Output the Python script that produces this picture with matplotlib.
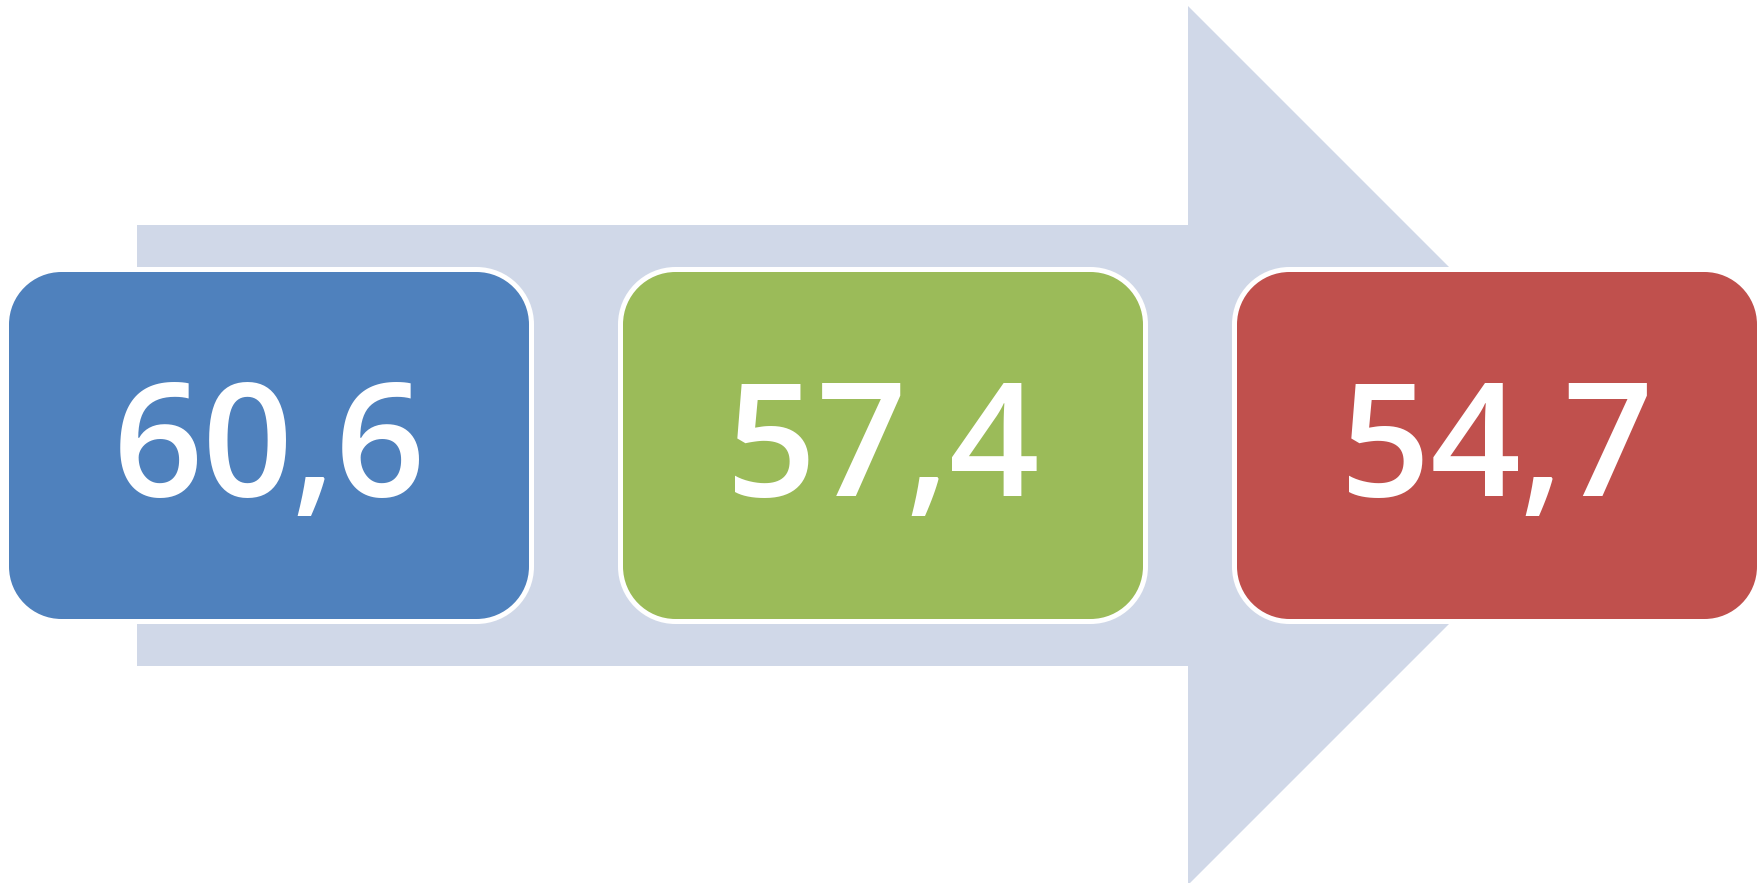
import matplotlib.pyplot as plt
from matplotlib.patches import PathPatch, Polygon
from matplotlib.path import Path

# valores mostrados en las cajas
values = [60.6, 57.4, 54.7]
box_colors = ["#4F81BD", "#9BBB59", "#C0504D"]
arrow_color = "#D0D8E8"

# layout en pixeles (figura 1765x883 a 100 dpi)
W, H = 1765, 883
BOX_LEFT = 6.5
BOX_STEP = 614
BOX_W = 525
BOX_TOP = 269.5
BOX_H = 352
RADIUS = 55


def rounded_rect(x0, y0, w, h, r):
    """Rectangulo con esquinas de arco circular (bezier cubica)."""
    k = 0.5523 * r
    x1, y1 = x0 + w, y0 + h
    verts = [
        (x0 + r, y0),
        (x1 - r, y0),
        (x1 - r + k, y0), (x1, y0 + r - k), (x1, y0 + r),
        (x1, y1 - r),
        (x1, y1 - r + k), (x1 - r + k, y1), (x1 - r, y1),
        (x0 + r, y1),
        (x0 + r - k, y1), (x0, y1 - r + k), (x0, y1 - r),
        (x0, y0 + r),
        (x0, y0 + r - k), (x0 + r - k, y0), (x0 + r, y0),
        (x0 + r, y0),
    ]
    codes = [Path.MOVETO, Path.LINETO]
    codes += [Path.CURVE4] * 3 + [Path.LINETO]
    codes += [Path.CURVE4] * 3 + [Path.LINETO]
    codes += [Path.CURVE4] * 3 + [Path.LINETO]
    codes += [Path.CURVE4] * 3 + [Path.CLOSEPOLY]
    return Path(verts, codes)


fig = plt.figure(figsize=(W / 100, H / 100), dpi=100)
ax = fig.add_axes([0, 0, 1, 1])
ax.set_xlim(0, W)
ax.set_ylim(H, 0)
ax.axis("off")

# ----------------------------------------
# Flecha de fondo
# ----------------------------------------
shaft_left, shaft_top, shaft_bottom = 137, 225, 666
head_x, head_top, head_bottom = 1188, 6, 885
tip_x = head_x + (head_bottom - head_top) / 2
mid_y = (head_top + head_bottom) / 2
arrow = Polygon(
    [
        (shaft_left, shaft_top),
        (head_x, shaft_top),
        (head_x, head_top),
        (tip_x, mid_y),
        (head_x, head_bottom),
        (head_x, shaft_bottom),
        (shaft_left, shaft_bottom),
    ],
    closed=True,
    facecolor=arrow_color,
    edgecolor="none",
    zorder=1,
)
ax.add_patch(arrow)

# ----------------------------------------
# Cajas con valores
# ----------------------------------------
for i, (value, color) in enumerate(zip(values, box_colors)):
    x0 = BOX_LEFT + i * BOX_STEP
    box = PathPatch(
        rounded_rect(x0, BOX_TOP, BOX_W, BOX_H, RADIUS),
        facecolor=color,
        edgecolor="white",
        linewidth=3.6,
        zorder=2,
    )
    ax.add_patch(box)

    label = f"{value:.1f}".replace(".", ",")
    ax.text(
        x0 + BOX_W / 2,
        BOX_TOP + BOX_H / 2 + 51,
        label,
        color="white",
        fontsize=114,
        family="Open Sans",
        fontweight="semibold",
        ha="center",
        va="baseline",
        zorder=3,
    )

fig.savefig("out.png", dpi=100)
